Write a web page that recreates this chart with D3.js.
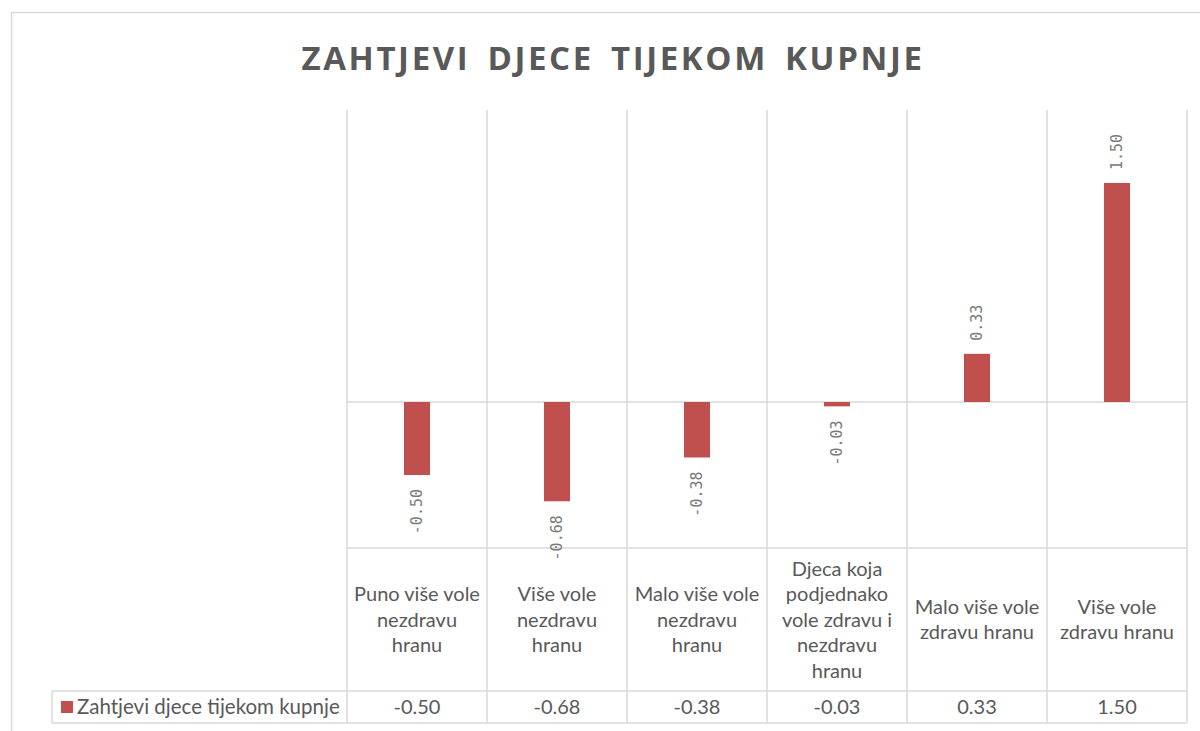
<!DOCTYPE html>
<html>
<head>
<meta charset="utf-8">
<script src="https://cdn.jsdelivr.net/npm/d3@7"></script>
<style>
  body { margin: 0; background: #fff; }
</style>
</head>
<body>
<div id="chart"></div>
<script>
// chart data
var title = "ZAHTJEVI DJECE TIJEKOM KUPNJE";
var seriesName = "Zahtjevi djece tijekom kupnje";
var categories = [
  "Puno više vole\nnezdravu\nhranu",
  "Više vole\nnezdravu\nhranu",
  "Malo više vole\nnezdravu\nhranu",
  "Djeca koja\npodjednako\nvole zdravu i\nnezdravu\nhranu",
  "Malo više vole\nzdravu hranu",
  "Više vole\nzdravu hranu"
];
var values = [-0.50, -0.68, -0.38, -0.03, 0.33, 1.50];

var W = 1200, H = 731;
var grid = "#d9d9d9", textCol = "#595959", barCol = "#c0504d";
var plotL = 347, plotR = 1187, plotT = 110, plotB = 548;
var tableB = 691, rowB = 723, legendL = 52;

var svg = d3.select("#chart").append("svg")
  .attr("width", W)
  .attr("height", H);

// outer chart border
svg.append("rect")
  .attr("x", 11.5).attr("y", 12.5)
  .attr("width", W + 20).attr("height", H + 20)
  .attr("fill", "#fff")
  .attr("stroke", grid).attr("stroke-width", 1.5);

svg.append("text")
  .attr("x", 613).attr("y", 70)
  .attr("text-anchor", "middle")
  .style("font-family", "'Open Sans', sans-serif")
  .style("font-weight", "bold")
  .style("font-size", "33px")
  .style("letter-spacing", "2.6px")
  .style("word-spacing", "6px")
  .attr("fill", textCol)
  .text(title);

var x = d3.scaleBand()
  .domain(categories)
  .range([plotL, plotR])
  .padding(0);

var y = d3.scaleLinear()
  .domain([-1, 2])
  .range([plotB, plotT]);

var barW = x.bandwidth() * 0.186;

// grid / table lines
var lines = svg.append("g")
  .attr("stroke", grid)
  .attr("stroke-width", 1.5);

var edges = categories.map(function (c) { return x(c); }).concat([plotR]);
lines.selectAll("line.v")
  .data(edges)
  .enter().append("line")
  .attr("class", "v")
  .attr("x1", function (d) { return d; })
  .attr("x2", function (d) { return d; })
  .attr("y1", plotT)
  .attr("y2", rowB);

lines.append("line")
  .attr("x1", plotL).attr("x2", plotR)
  .attr("y1", y(0)).attr("y2", y(0));
lines.append("line")
  .attr("x1", plotL).attr("x2", plotR)
  .attr("y1", plotB).attr("y2", plotB);
lines.append("line")
  .attr("x1", legendL).attr("x2", plotR)
  .attr("y1", tableB).attr("y2", tableB);
lines.append("line")
  .attr("x1", legendL).attr("x2", plotR)
  .attr("y1", rowB).attr("y2", rowB);
lines.append("line")
  .attr("x1", legendL).attr("x2", legendL)
  .attr("y1", tableB).attr("y2", rowB);

// bars
svg.selectAll("rect.bar")
  .data(values)
  .enter().append("rect")
  .attr("class", "bar")
  .attr("x", function (d, i) { return x(categories[i]) + x.bandwidth() / 2 - barW / 2; })
  .attr("y", function (d) { return y(Math.max(0, d)); })
  .attr("width", barW)
  .attr("height", function (d) { return Math.abs(y(d) - y(0)); })
  .attr("fill", barCol);

// rotated data labels
svg.selectAll("text.lbl")
  .data(values)
  .enter().append("text")
  .attr("class", "lbl")
  .attr("transform", function (d, i) {
    var cx = x(categories[i]) + x.bandwidth() / 2;
    var cy = d >= 0 ? y(d) - 13 : y(d) + 14;
    return "translate(" + cx + "," + cy + ") rotate(-90)";
  })
  .attr("dy", "0.35em")
  .attr("text-anchor", function (d) { return d >= 0 ? "start" : "end"; })
  .style("font-family", "'DejaVu Sans Mono', monospace")
  .style("font-size", "15px")
  .attr("fill", "#7a7a7a")
  .text(function (d) { return d.toFixed(2); });

// category labels in table
var lineH = 25.5;
var catG = svg.selectAll("text.cat")
  .data(categories)
  .enter().append("text")
  .attr("class", "cat")
  .attr("text-anchor", "middle")
  .style("font-family", "Lato, sans-serif")
  .style("font-size", "20px")
  .attr("fill", textCol);

catG.each(function (d) {
  var parts = d.split("\n");
  var cx = x(d) + x.bandwidth() / 2;
  var mid = (plotB + tableB) / 2;
  var first = mid - (parts.length - 1) * lineH / 2;
  d3.select(this).selectAll("tspan")
    .data(parts)
    .enter().append("tspan")
    .attr("x", cx)
    .attr("y", function (p, k) { return first + k * lineH; })
    .attr("dy", "0.35em")
    .text(function (p) { return p; });
});

// value row
svg.selectAll("text.val")
  .data(values)
  .enter().append("text")
  .attr("class", "val")
  .attr("x", function (d, i) { return x(categories[i]) + x.bandwidth() / 2; })
  .attr("y", (tableB + rowB) / 2)
  .attr("dy", "0.35em")
  .attr("text-anchor", "middle")
  .style("font-family", "Lato, sans-serif")
  .style("font-size", "20px")
  .attr("fill", textCol)
  .text(function (d) { return d.toFixed(2); });

// legend key
svg.append("rect")
  .attr("x", 61).attr("y", 701)
  .attr("width", 12).attr("height", 12)
  .attr("fill", barCol);
svg.append("text")
  .attr("x", 77).attr("y", (tableB + rowB) / 2)
  .attr("dy", "0.35em")
  .style("font-family", "Lato, sans-serif")
  .style("font-size", "20.5px")
  .attr("fill", textCol)
  .text(seriesName);
</script>
</body>
</html>
